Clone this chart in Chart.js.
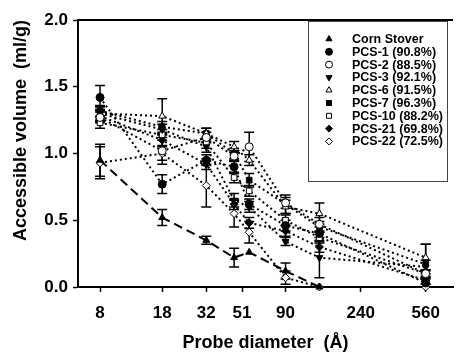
<!DOCTYPE html>
<html>
<head>
<meta charset="utf-8">
<script src="https://cdn.jsdelivr.net/npm/chart.js@4.4.1/dist/chart.umd.min.js"></script>
<style>
  html, body { margin: 0; padding: 0; background: #fff; }
  canvas { display: block; }
</style>
</head>
<body>
<canvas id="volumeChart" width="458" height="352"></canvas>
<script>
// Dados
const probeSizes = [8, 18, 32, 46, 56, 90, 140, 560];
const xTickValues = [8, 18, 32, 51, 90, 240, 560];

const cornStover = [0.95, 0.52, 0.35, 0.22, 0.26, 0.12, 0.0, null];
const pcs1 = [1.42, 0.77, 0.95, 0.9, 0.62, 0.46, 0.4, 0.03];
const pcs2 = [1.27, 1.02, 1.12, 0.98, 1.05, 0.63, 0.47, 0.1];
const pcs3 = [1.3, 1.18, 1.05, 0.65, 0.6, 0.34, 0.22, 0.15];
const pcs6 = [1.3, 1.28, 1.15, 1.05, 0.95, 0.6, 0.55, 0.22];
const pcs7 = [1.32, 1.2, 1.15, 1.0, 0.8, 0.62, 0.45, 0.17];
const pcs10 = [1.23, 1.14, 1.08, 0.82, 0.72, 0.5, 0.37, 0.1];
const pcs21 = [1.28, 1.1, 0.92, 0.62, 0.48, 0.42, 0.3, 0.05];
const pcs22 = [0.93, 1.0, 0.76, 0.55, 0.41, 0.07, 0.0, 0.0];

// desvios (barras de erro)
const cornStoverErr = [0.12, 0.06, 0.03, 0.07, 0.0, 0.06, 0, 0];
const pcs1Err = [0.09, 0.07, 0.04, 0.05, 0.04, 0.04, 0.05, 0.03];
const pcs2Err = [0.04, 0.1, 0.04, 0.04, 0.11, 0.04, 0.05, 0.03];
const pcs3Err = [0.05, 0.04, 0.04, 0.05, 0.04, 0.03, 0.15, 0.05];
const pcs6Err = [0.05, 0.13, 0.04, 0.04, 0.04, 0.05, 0.08, 0.1];
const pcs7Err = [0.04, 0.04, 0.04, 0.04, 0.05, 0.07, 0.04, 0.15];
const pcs10Err = [0.04, 0.04, 0.04, 0.04, 0.04, 0.04, 0.04, 0.03];
const pcs21Err = [0.04, 0.04, 0.04, 0.04, 0.04, 0.04, 0.04, 0.03];
const pcs22Err = [0.12, 0.05, 0.16, 0.1, 0.08, 0.05, 0, 0];

const toPoints = (values) => probeSizes.map((x, i) => ({ x: x, y: values[i] }));

function series(label, values, errors, style, filled, dash, rotation) {
  return {
    label: label,
    data: toPoints(values),
    errors: errors,
    borderColor: "#000",
    borderWidth: 2,
    borderDash: dash,
    pointStyle: style,
    pointRotation: rotation || 0,
    pointRadius: 4,
    pointBorderWidth: 1,
    pointBorderColor: "#000",
    pointBackgroundColor: filled ? "#000" : "#fff",
    tension: 0,
    fill: false,
    clip: false,
  };
}

const dotted = [2, 3];

// barras de erro
const errorBars = {
  id: "errorBars",
  beforeDatasetsDraw(chart) {
    const ctx = chart.ctx;
    const xs = chart.scales.x;
    const ys = chart.scales.y;
    ctx.save();
    ctx.strokeStyle = "#000";
    ctx.lineWidth = 1.5;
    chart.data.datasets.forEach((ds) => {
      ds.data.forEach((p, i) => {
        const e = ds.errors[i];
        if (p.y === null || !e) return;
        const px = xs.getPixelForValue(p.x);
        const top = ys.getPixelForValue(p.y + e);
        const bot = ys.getPixelForValue(Math.max(p.y - e, 0));
        ctx.beginPath();
        ctx.moveTo(px, top);
        ctx.lineTo(px, bot);
        ctx.moveTo(px - 5, top);
        ctx.lineTo(px + 5, top);
        ctx.moveTo(px - 5, bot);
        ctx.lineTo(px + 5, bot);
        ctx.stroke();
      });
    });
    ctx.restore();
  },
};

// moldura superior e legenda
const frameAndLegend = {
  id: "frameAndLegend",
  afterDraw(chart) {
    const ctx = chart.ctx;
    const area = chart.chartArea;
    ctx.save();
    ctx.strokeStyle = "#000";
    ctx.lineWidth = 2;
    ctx.beginPath();
    ctx.moveTo(area.left, area.top);
    ctx.lineTo(area.right, area.top);
    ctx.stroke();

    const bx = area.left + 230;
    const by = area.top + 1;
    ctx.strokeStyle = "#444";
    ctx.lineWidth = 1;
    ctx.fillStyle = "#fff";
    ctx.fillRect(bx + 0.5, by + 0.5, 139, 160);
    ctx.strokeRect(bx + 0.5, by + 0.5, 139, 160);

    ctx.font = "bold 12.5px 'Liberation Sans', Arial, sans-serif";
    ctx.textBaseline = "middle";
    chart.data.datasets.forEach((ds, i) => {
      const y = by + 18 + i * 12.8;
      ctx.fillStyle = ds.pointBackgroundColor;
      ctx.strokeStyle = "#000";
      ctx.lineWidth = 1;
      Chart.helpers.drawPoint(
        ctx,
        { pointStyle: ds.pointStyle, radius: 3.5, rotation: ds.pointRotation, borderWidth: 1 },
        bx + 21,
        y
      );
      ctx.fillStyle = "#000";
      ctx.fillText(ds.label, bx + 44, y + 0.5);
    });
    ctx.restore();
  },
};

const tickFont = { family: "'Liberation Sans', Arial, sans-serif", size: 17, weight: "bold" };
const titleFont = { family: "'Liberation Sans', Arial, sans-serif", size: 18, weight: "bold", lineHeight: 1 };

new Chart(document.getElementById("volumeChart").getContext("2d"), {
  type: "line",
  data: {
    datasets: [
      series("Corn Stover", cornStover, cornStoverErr, "triangle", true, [9, 5]),
      series("PCS-1 (90.8%)", pcs1, pcs1Err, "circle", true, dotted),
      series("PCS-2 (88.5%)", pcs2, pcs2Err, "circle", false, dotted),
      series("PCS-3 (92.1%)", pcs3, pcs3Err, "triangle", true, dotted, 180),
      series("PCS-6 (91.5%)", pcs6, pcs6Err, "triangle", false, dotted),
      series("PCS-7 (96.3%)", pcs7, pcs7Err, "rect", true, dotted),
      series("PCS-10 (88.2%)", pcs10, pcs10Err, "rect", false, dotted),
      series("PCS-21 (69.8%)", pcs21, pcs21Err, "rectRot", true, dotted),
      series("PCS-22 (72.5%)", pcs22, pcs22Err, "rectRot", false, dotted),
    ],
  },
  options: {
    responsive: false,
    animation: false,
    layout: { padding: { top: 20, right: 0, left: 0, bottom: 0 } },
    plugins: {
      legend: { display: false },
      tooltip: { enabled: false },
    },
    scales: {
      x: {
        type: "logarithmic",
        min: 6,
        max: 800,
        afterBuildTicks: (scale) => {
          scale.ticks = xTickValues.map((v) => ({ value: v }));
        },
        afterFit: (scale) => {
          scale.height = 65;
        },
        ticks: {
          autoSkip: false,
          maxRotation: 0,
          color: "#000",
          font: tickFont,
          padding: 11,
          callback: (v) => String(v),
        },
        grid: { drawOnChartArea: false, tickLength: 5, tickColor: "#000", tickWidth: 1.5 },
        border: { color: "#000", width: 2 },
        title: {
          display: true,
          text: "Probe diameter  (Å)",
          color: "#000",
          font: titleFont,
          padding: { top: 2, bottom: 0 },
        },
      },
      y: {
        min: 0,
        max: 2,
        afterFit: (scale) => {
          scale.width = 78;
        },
        ticks: {
          stepSize: 0.5,
          color: "#000",
          font: tickFont,
          padding: 5,
          callback: (v) => v.toFixed(1),
        },
        grid: { drawOnChartArea: false, tickLength: 5, tickColor: "#000", tickWidth: 1.5 },
        border: { color: "#000", width: 2 },
        title: {
          display: true,
          text: "Accessible volume  (ml/g)",
          color: "#000",
          font: titleFont,
          align: "end",
          padding: { top: 12, bottom: 0 },
        },
      },
    },
  },
  plugins: [errorBars, frameAndLegend],
});
</script>
</body>
</html>
